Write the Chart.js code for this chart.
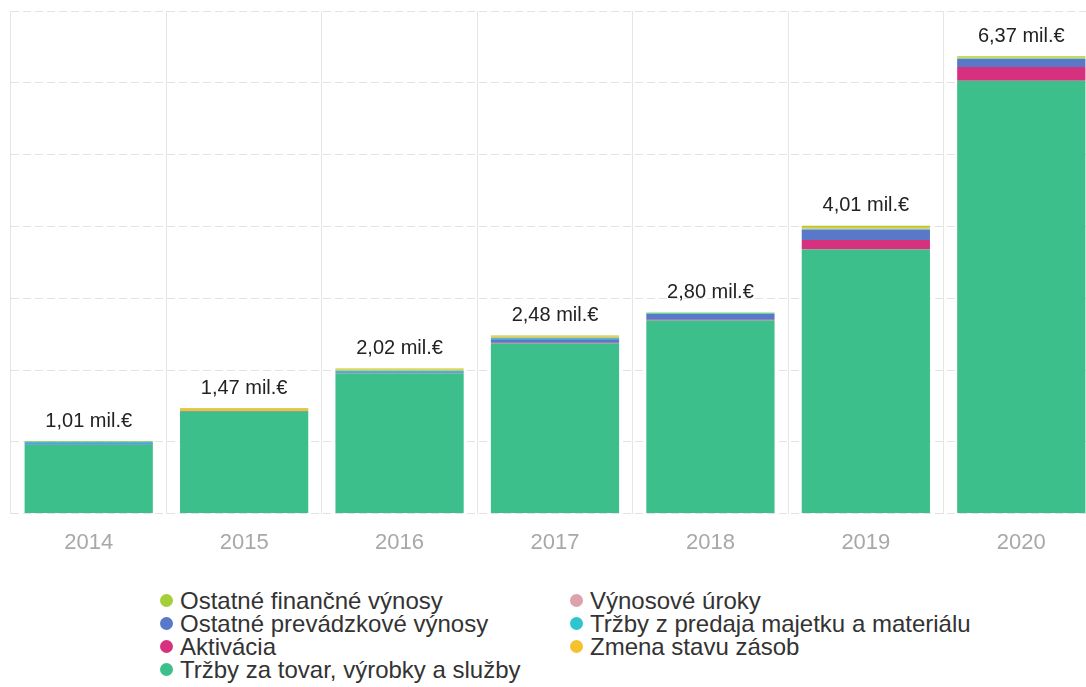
<!DOCTYPE html>
<html>
<head>
<meta charset="utf-8">
<script src="https://cdn.jsdelivr.net/npm/chart.js@4.4.1/dist/chart.umd.min.js"></script>
<style>
  html, body { margin: 0; padding: 0; background: #fff; overflow: hidden; }
  body { width: 1086px; height: 687px; position: relative; font-family: "Liberation Sans", Arial, sans-serif; }
  #wrap { position: absolute; left: 0; top: 0; width: 1100px; height: 579px; }
  #legend { position: absolute; left: 0; top: 589px; width: 1086px; height: 100px; }
  .item { position: absolute; height: 23px; line-height: 23px; font-size: 24px; color: #333; white-space: nowrap; }
  .dot { position: absolute; left: -20px; top: 5px; width: 13px; height: 13px; border-radius: 50%; }
</style>
</head>
<body>
<div id="wrap"><canvas id="chart"></canvas></div>
<div id="legend"></div>
<script>
// roky
const years = ['2014', '2015', '2016', '2017', '2018', '2019', '2020'];

// hodnoty v mil. € (odčítané z grafu), poradie od spodu stĺpca
const trzbyTovar   = [0.96, 1.42, 1.95, 2.37, 2.69, 3.68, 6.03];
const aktivacia    = [0.00, 0.00, 0.00, 0.01, 0.01, 0.13, 0.19];
const ostPrevadz   = [0.02, 0.01, 0.02, 0.05, 0.08, 0.14, 0.11];
const trzbyMajetok = [0.02, 0.00, 0.02, 0.02, 0.01, 0.01, 0.01];
const uroky        = [0.00, 0.00, 0.00, 0.00, 0.00, 0.01, 0.00];
const zmenaZasob   = [0.00, 0.03, 0.02, 0.02, 0.00, 0.02, 0.01];
const ostFinancne  = [0.01, 0.01, 0.01, 0.01, 0.01, 0.02, 0.02];

const series = [
  { label: 'Tržby za tovar, výrobky a služby', data: trzbyTovar,   color: '#3dbf8b' },
  { label: 'Aktivácia',                        data: aktivacia,    color: '#d6317f' },
  { label: 'Ostatné prevádzkové výnosy',       data: ostPrevadz,   color: '#5a78c8' },
  { label: 'Tržby z predaja majetku a materiálu', data: trzbyMajetok, color: '#2ec4d0' },
  { label: 'Výnosové úroky',                   data: uroky,        color: '#dca3ac' },
  { label: 'Zmena stavu zásob',                data: zmenaZasob,   color: '#f5c12e' },
  { label: 'Ostatné finančné výnosy',          data: ostFinancne,  color: '#a4cf38' }
];

// legenda: dva stĺpce
const legendCol1 = ['Ostatné finančné výnosy', 'Ostatné prevádzkové výnosy', 'Aktivácia', 'Tržby za tovar, výrobky a služby'];
const legendCol2 = ['Výnosové úroky', 'Tržby z predaja majetku a materiálu', 'Zmena stavu zásob'];

const fmt = v => v.toFixed(2).replace('.', ',') + ' mil.€';

// súčty nad stĺpcami
const totalsPlugin = {
  id: 'totals',
  afterDatasetsDraw(chart) {
    const ctx = chart.ctx;
    const last = chart.getDatasetMeta(chart.data.datasets.length - 1);
    ctx.save();
    ctx.font = '20px "Liberation Sans", Arial, sans-serif';
    ctx.fillStyle = '#222';
    ctx.textAlign = 'center';
    ctx.textBaseline = 'middle';
    years.forEach((y, i) => {
      const total = series.reduce((s, d) => s + d.data[i], 0);
      const bar = last.data[i];
      ctx.fillText(fmt(total), bar.x, bar.y - 20);
    });
    ctx.restore();
  }
};

new Chart(document.getElementById('chart'), {
  type: 'bar',
  data: {
    labels: years,
    datasets: series.map(s => ({
      label: s.label,
      data: s.data,
      backgroundColor: s.color,
      borderWidth: 0,
      barPercentage: 0.825,
      categoryPercentage: 1
    }))
  },
  options: {
    responsive: true,
    maintainAspectRatio: false,
    animation: false,
    layout: { padding: { top: 11, left: 11, right: 1, bottom: 7 } },
    plugins: { legend: { display: false }, tooltip: { enabled: false } },
    scales: {
      x: {
        stacked: true,
        border: { display: false },
        grid: { color: '#e6e6e6', drawTicks: false, offset: true },
        ticks: { color: '#a8a8a8', padding: 16, font: { size: 22, family: '"Liberation Sans", Arial, sans-serif' } }
      },
      y: {
        stacked: true,
        min: 0,
        max: 7,
        border: { display: false, dash: [8, 4] },
        grid: { color: '#e3e3e3', drawTicks: false },
        ticks: { display: false, stepSize: 1 }
      }
    }
  },
  plugins: [totalsPlugin]
});

// HTML legenda
const legend = document.getElementById('legend');
const colorOf = name => series.find(s => s.label === name).color;
function addCol(names, left) {
  names.forEach((n, r) => {
    const el = document.createElement('div');
    el.className = 'item';
    el.style.left = left + 'px';
    el.style.top = (r * 23) + 'px';
    el.innerHTML = '<span class="dot" style="background:' + colorOf(n) + '"></span>' + n;
    legend.appendChild(el);
  });
}
addCol(legendCol1, 180);
addCol(legendCol2, 590);
</script>
</body>
</html>
